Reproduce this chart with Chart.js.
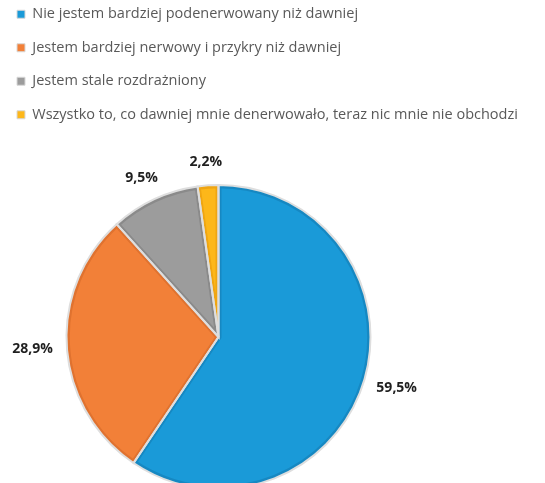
<!DOCTYPE html>
<html>
<head>
<meta charset="utf-8">
<script src="https://cdn.jsdelivr.net/npm/chart.js@4"></script>
<style>
  html, body { margin: 0; padding: 0; background: #fff; overflow: hidden; }
  #wrap { width: 545px; height: 545px; position: relative; }
</style>
</head>
<body>
<div id="wrap"><canvas id="chart"></canvas></div>
<script>
// Answers and their shares (percent)
const categories = [
    'Nie jestem bardziej podenerwowany niż dawniej',
    'Jestem bardziej nerwowy i przykry niż dawniej',
    'Jestem stale rozdrażniony',
    'Wszystko to, co dawniej mnie denerwowało, teraz nic mnie nie obchodzi'
];
const shares = [59.5, 28.9, 9.5, 2.2];
const fillColors = ['#1a9ad8', '#f28038', '#9c9c9c', '#fdb71a'];
const edgeColors = ['#1688c2', '#e0722f', '#8a8a8a', '#efa512'];

// pie sits left of the page centre, legend keeps full width
const narrowArea = {
    id: 'narrowArea',
    afterLayout(chart) {
        const a = chart.chartArea;
        a.right = a.left + 437;
        a.width = a.right - a.left;
    }
};

// light outline round every slice
const outlinePlugin = {
    id: 'outline',
    afterDatasetsDraw(chart) {
        const ctx = chart.ctx;
        chart.getDatasetMeta(0).data.forEach(arc => {
            ctx.save();
            ctx.beginPath();
            ctx.moveTo(arc.x, arc.y);
            ctx.arc(arc.x, arc.y, arc.outerRadius, arc.startAngle, arc.endAngle);
            ctx.closePath();
            ctx.strokeStyle = '#dedede';
            ctx.lineWidth = 2;
            ctx.stroke();
            ctx.restore();
        });
    }
};

// percent labels outside the pie
const labelPlugin = {
    id: 'outsideLabels',
    afterDraw(chart) {
        const ctx = chart.ctx;
        ctx.save();
        ctx.font = 'bold 14px "Open Sans", sans-serif';
        ctx.fillStyle = '#1f1f1f';
        ctx.textAlign = 'center';
        ctx.textBaseline = 'middle';
        chart.getDatasetMeta(0).data.forEach((arc, i) => {
            const mid = (arc.startAngle + arc.endAngle) / 2;
            const dx = Math.cos(mid), dy = Math.sin(mid);
            const txt = shares[i].toFixed(1).replace('.', ',') + '%';
            const w = ctx.measureText(txt).width, h = 18;
            const r = arc.outerRadius + 14;
            const x = arc.x + dx * r + dx * w / 2;
            const y = arc.y + dy * r + dy * h / 2;
            ctx.fillText(txt, x, y);
        });
        ctx.restore();
    }
};

new Chart(document.getElementById('chart'), {
    type: 'pie',
    data: {
        labels: categories,
        datasets: [{
            data: shares,
            backgroundColor: fillColors,
            borderColor: edgeColors,
            borderWidth: 3,
            borderAlign: 'inner'
        }]
    },
    options: {
        responsive: true,
        maintainAspectRatio: false,
        animation: false,
        radius: 152,
        layout: { padding: { top: -12, right: 0, bottom: 3, left: -2 } },
        plugins: {
            tooltip: { enabled: false },
            legend: {
                position: 'top',
                align: 'start',
                labels: {
                    boxWidth: 8,
                    boxHeight: 8,
                    padding: 19,
                    color: '#595959',
                    font: { family: '"Open Sans", sans-serif', size: 14.5 },
                    generateLabels: function(chart) {
                        return Chart.overrides.pie.plugins.legend.labels.generateLabels(chart).map(item => {
                            item.lineWidth = 1;
                            item.strokeStyle = '#d8d8d8';
                            return item;
                        });
                    }
                }
            }
        }
    },
    plugins: [narrowArea, outlinePlugin, labelPlugin]
});
</script>
</body>
</html>
